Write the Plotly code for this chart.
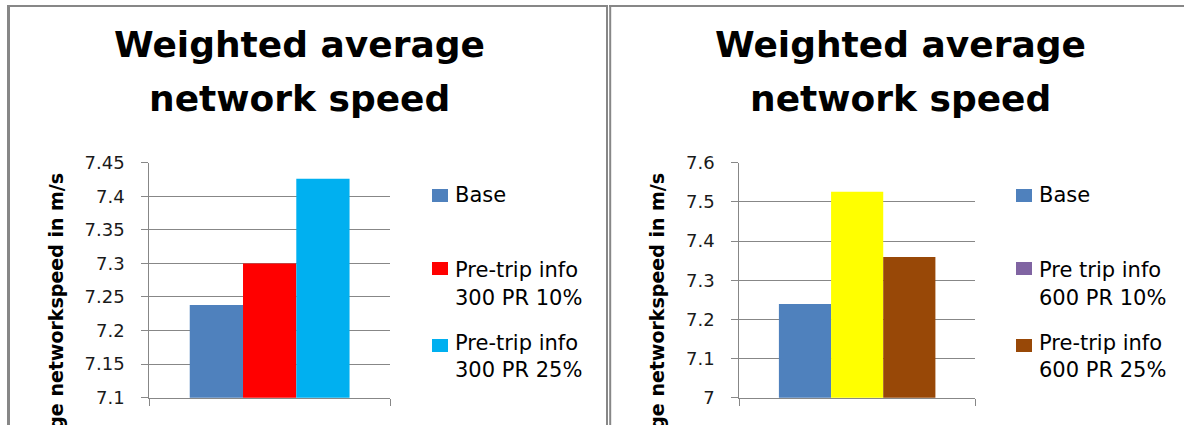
import plotly.graph_objects as go

# ---- data -------------------------------------------------------------
category = [0]

left_names = ["Base", "Pre-trip info 300 PR 10%", "Pre-trip info 300 PR 25%"]
left_values = [7.238, 7.300, 7.426]
left_tickvals = [7.1, 7.15, 7.2, 7.25, 7.3, 7.35, 7.4, 7.45]
left_ticktext = ["7.1", "7.15", "7.2", "7.25", "7.3", "7.35", "7.4", "7.45"]
left_legend_lines = [["Base"], ["Pre-trip info", "300 PR 10%"], ["Pre-trip info", "300 PR 25%"]]

right_names = ["Base", "Pre trip info 600 PR 10%", "Pre-trip info 600 PR 25%"]
right_values = [7.239, 7.526, 7.359]
right_tickvals = [7.0, 7.1, 7.2, 7.3, 7.4, 7.5, 7.6]
right_ticktext = ["7", "7.1", "7.2", "7.3", "7.4", "7.5", "7.6"]
right_legend_lines = [["Base"], ["Pre trip info", "600 PR 10%"], ["Pre-trip info", "600 PR 25%"]]

chart_title = ["Weighted average", "network speed"]
y_title = "Weighted average networkspeed in m/s"

# ---- styles -----------------------------------------------------------
W, H = 1184, 425
left_bar_colors = ["#4F81BD", "#FF0000", "#00B0F0"]
right_bar_colors = ["#4F81BD", "#FFFF00", "#984807"]
right_key_colors = ["#4F81BD", "#8064A2", "#984807"]
GRID = "#878787"
FONT = "DejaVu Sans"


def px(x):
    return x / W


def py(y):
    return 1 - y / H


fig = go.Figure()

for name, val, col in zip(left_names, left_values, left_bar_colors):
    fig.add_trace(go.Bar(x=category, y=[val], name=name, marker_color=col,
                         marker_line_width=0, xaxis="x", yaxis="y",
                         showlegend=False, hoverinfo="name+y"))
for name, val, col in zip(right_names, right_values, right_bar_colors):
    fig.add_trace(go.Bar(x=category, y=[val], name=name, marker_color=col,
                         marker_line_width=0, xaxis="x2", yaxis="y2",
                         showlegend=False, hoverinfo="name+y"))

y_dom = [py(397.7), py(162.7)]


def yaxis_style(rng, tv, tt, anchor):
    return dict(range=rng, tickvals=tv, ticktext=tt, domain=y_dom, anchor=anchor,
                showgrid=True, gridcolor=GRID, gridwidth=1,
                showline=True, linecolor=GRID, linewidth=1,
                ticks="outside", ticklen=7, tickcolor=GRID,
                ticklabelstandoff=13, zeroline=False, automargin=False,
                tickfont=dict(family=FONT, size=18, color="#1a1a1a"))


def xaxis_style(dom, anchor):
    return dict(domain=dom, anchor=anchor, range=[-0.5, 0.5], type="linear",
                tickvals=[-0.5, 0.5], showticklabels=False,
                ticks="outside", ticklen=7, tickcolor=GRID,
                showline=True, linecolor=GRID, linewidth=1,
                showgrid=False, zeroline=False, automargin=False)


fig.update_layout(
    width=W, height=H, autosize=False,
    margin=dict(l=0, r=0, t=0, b=0, pad=0),
    paper_bgcolor="white", plot_bgcolor="white",
    barmode="group", bargap=0.336, bargroupgap=0,
    xaxis=xaxis_style([px(149.3), px(390)], "y"),
    yaxis=yaxis_style([7.1, 7.45], left_tickvals, left_ticktext, "x"),
    xaxis2=xaxis_style([px(739.3), px(975)], "y2"),
    yaxis2=yaxis_style([7.0, 7.6], right_tickvals, right_ticktext, "x2"),
)

shapes = []
annotations = []

# panel frames
shapes += [
    dict(type="line", xref="paper", yref="paper", x0=px(8.5), x1=px(8.5), y0=py(5), y1=py(440),
         line=dict(color=GRID, width=3)),
    dict(type="line", xref="paper", yref="paper", x0=px(7), x1=px(607.5), y0=py(6), y1=py(6),
         line=dict(color=GRID, width=2)),
    dict(type="line", xref="paper", yref="paper", x0=px(607), x1=px(607), y0=py(5), y1=py(440),
         line=dict(color=GRID, width=2)),
    dict(type="line", xref="paper", yref="paper", x0=px(610.2), x1=px(610.2), y0=py(5), y1=py(440),
         line=dict(color=GRID, width=2)),
    dict(type="line", xref="paper", yref="paper", x0=px(609), x1=px(1190), y0=py(6), y1=py(6),
         line=dict(color=GRID, width=2)),
]


def add_panel_text(title_cx, ytitle_cx, key_x, key_colors, legend_lines):
    for line, yc in zip(chart_title, [45, 98]):
        annotations.append(dict(xref="paper", yref="paper", x=px(title_cx), y=py(yc),
                                text=f"<b>{line}</b>", showarrow=False,
                                xanchor="center", yanchor="middle",
                                font=dict(family=FONT, size=36, color="#000000")))
    annotations.append(dict(xref="paper", yref="paper", x=px(ytitle_cx), y=py(171),
                            text=f"<b>{y_title}</b>", textangle=-90, showarrow=False,
                            xanchor="center", yanchor="top",
                            font=dict(family=FONT, size=19, color="#000000")))
    key_tops = [189, 262, 339]
    line_centers = [[195], [270, 298], [343, 370]]
    for col, top, lines, centers in zip(key_colors, key_tops, legend_lines, line_centers):
        shapes.append(dict(type="rect", xref="paper", yref="paper",
                           x0=px(key_x), x1=px(key_x + 16), y0=py(top), y1=py(top + 13),
                           fillcolor=col, line=dict(width=0)))
        for txt, yc in zip(lines, centers):
            annotations.append(dict(xref="paper", yref="paper", x=px(key_x + 21), y=py(yc),
                                    text=txt, showarrow=False, xanchor="left", yanchor="middle",
                                    font=dict(family=FONT, size=21, color="#000000")))


add_panel_text(299, 56, 432, left_bar_colors, left_legend_lines)
add_panel_text(900, 56 + 601, 1016, right_key_colors, right_legend_lines)

fig.update_layout(shapes=shapes, annotations=annotations)

fig.write_html("out.html")
